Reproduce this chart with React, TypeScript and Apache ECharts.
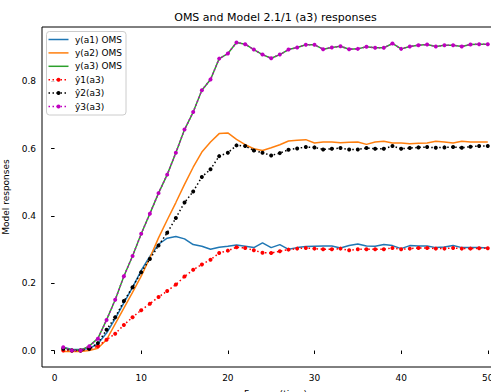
import React, { useEffect, useRef } from "react";
import * as echarts from "echarts";

const frames = [1,2,3,4,5,6,7,8,9,10,11,12,13,14,15,16,17,18,19,20,21,22,23,24,25,26,27,28,29,30,31,32,33,34,35,36,37,38,39,40,41,42,43,44,45,46,47,48,49,50];

const yA1 = [0.010,0.003,0.003,0.006,0.020,0.052,0.095,0.142,0.188,0.238,0.280,0.316,0.334,0.339,0.332,0.315,0.310,0.301,0.307,0.310,0.314,0.310,0.306,0.320,0.306,0.315,0.301,0.306,0.309,0.310,0.311,0.311,0.305,0.312,0.317,0.311,0.310,0.315,0.312,0.303,0.312,0.311,0.311,0.306,0.308,0.312,0.306,0.306,0.306,0.305];
const yA2 = [-0.003,-0.003,-0.003,0.000,0.007,0.032,0.079,0.126,0.173,0.221,0.276,0.335,0.388,0.440,0.494,0.545,0.590,0.620,0.645,0.647,0.628,0.612,0.600,0.595,0.603,0.612,0.623,0.625,0.627,0.617,0.620,0.620,0.618,0.619,0.620,0.613,0.620,0.622,0.617,0.617,0.615,0.616,0.617,0.622,0.620,0.617,0.622,0.620,0.620,0.620];
const yA3 = [0.009,0.001,0.001,0.013,0.036,0.091,0.151,0.221,0.281,0.347,0.407,0.468,0.523,0.588,0.657,0.709,0.774,0.806,0.868,0.883,0.916,0.911,0.895,0.880,0.869,0.880,0.895,0.901,0.909,0.909,0.896,0.901,0.905,0.896,0.897,0.903,0.900,0.900,0.913,0.897,0.904,0.908,0.910,0.904,0.908,0.908,0.904,0.910,0.911,0.911];
const yHat1 = [0.000,0.000,0.000,0.005,0.013,0.032,0.050,0.076,0.099,0.120,0.139,0.159,0.177,0.196,0.220,0.240,0.256,0.270,0.290,0.297,0.307,0.305,0.298,0.291,0.290,0.295,0.300,0.303,0.305,0.303,0.301,0.301,0.303,0.298,0.301,0.301,0.301,0.301,0.305,0.301,0.303,0.305,0.305,0.303,0.303,0.305,0.303,0.303,0.304,0.304];
const yHat2 = [0.005,0.000,0.000,0.005,0.022,0.062,0.099,0.147,0.188,0.233,0.272,0.312,0.350,0.394,0.440,0.473,0.516,0.539,0.578,0.588,0.610,0.608,0.595,0.588,0.580,0.587,0.597,0.601,0.605,0.604,0.598,0.600,0.602,0.598,0.598,0.602,0.600,0.600,0.608,0.600,0.602,0.604,0.605,0.603,0.604,0.605,0.603,0.606,0.608,0.608];
const yHat3 = [0.010,0.000,0.000,0.013,0.035,0.091,0.151,0.221,0.281,0.347,0.407,0.468,0.523,0.588,0.657,0.709,0.774,0.806,0.868,0.883,0.916,0.911,0.895,0.880,0.869,0.880,0.895,0.901,0.909,0.909,0.896,0.901,0.905,0.896,0.897,0.903,0.900,0.900,0.913,0.897,0.904,0.908,0.910,0.904,0.908,0.908,0.904,0.910,0.911,0.911];

const seriesNames = ["y(a1) OMS", "y(a2) OMS", "y(a3) OMS", "ŷ1(a3)", "ŷ2(a3)", "ŷ3(a3)"];
const seriesColors = ["#1f77b4", "#ff7f0e", "#2ca02c", "#ff0000", "#000000", "#bf00bf"];
const seriesDotted = [false, false, false, true, true, true];
const xTicks = [0, 10, 20, 30, 40, 50];
const yTicks = [0, 0.2, 0.4, 0.6, 0.8];
const titleText = "OMS and Model 2.1/1 (a3) responses";
const xLabel = "Frames (time)";
const yLabel = "Model responses";

const FONT = "DejaVu Sans";
const CHART_W = 520;
const CHART_H = 392;

function pairs(vals: number[]) {
  return frames.map((f, i) => [f, vals[i]]);
}

function legendGraphics() {
  const els: any[] = [];
  els.push({
    type: "rect",
    z: 100,
    shape: { x: 46.5, y: 31.5, width: 79.5, height: 83.5, r: 3 },
    style: { fill: "rgba(255,255,255,0.8)", stroke: "#cccccc", lineWidth: 1 },
  });
  seriesNames.forEach((name, i) => {
    const cy = 39.5 + i * 13.4;
    const color = seriesColors[i];
    els.push({
      type: "line",
      z: 101,
      shape: { x1: 48.5, y1: cy, x2: 68.5, y2: cy },
      style: seriesDotted[i]
        ? { stroke: color, lineWidth: 1.5, lineDash: [1.5, 2.5] }
        : { stroke: color, lineWidth: 1.5 },
    });
    if (seriesDotted[i]) {
      els.push({
        type: "circle",
        z: 102,
        shape: { cx: 58.5, cy, r: 2 },
        style: { fill: color },
      });
    }
    els.push({
      type: "text",
      z: 102,
      x: 75,
      y: cy,
      style: {
        text: name,
        fontFamily: FONT,
        fontSize: 9,
        fill: "#000",
        textAlign: "left",
        textVerticalAlign: "middle",
      },
    });
  });
  return els;
}

export default function App() {
  const ref = useRef<HTMLDivElement>(null);
  useEffect(() => {
    if (!ref.current) return;
    const chart = echarts.init(ref.current, null, { renderer: "svg" });
    const makeSeries = (i: number, vals: number[]) => {
      const color = seriesColors[i];
      if (!seriesDotted[i]) {
        return {
          name: seriesNames[i],
          type: "line",
          data: pairs(vals),
          showSymbol: false,
          symbol: "none",
          lineStyle: { color, width: 1.5 },
          itemStyle: { color },
        };
      }
      return {
        name: seriesNames[i],
        type: "line",
        data: pairs(vals),
        symbol: "circle",
        symbolSize: 4,
        showSymbol: true,
        lineStyle: { color, width: 1.5, type: [1.5, 2.5] },
        itemStyle: { color, borderWidth: 0 },
      };
    };
    chart.setOption({
      animation: false,
      textStyle: { fontFamily: FONT },
      grid: {
        left: 42,
        top: 27,
        right: CHART_W - 509,
        bottom: 25,
        outerBoundsMode: "none",
        show: true,
        borderColor: "#000",
        borderWidth: 1,
        backgroundColor: "transparent",
      },
      graphic: [
        {
          type: "text",
          x: 275.5,
          y: 17,
          style: {
            text: titleText,
            fontFamily: FONT,
            fontSize: 11,
            fill: "#000",
            textAlign: "center",
            textVerticalAlign: "middle",
          },
        },
        ...legendGraphics(),
      ],
      xAxis: {
        type: "value",
        min: -1.45,
        max: 52.45,
        name: xLabel,
        nameLocation: "middle",
        nameGap: 22,
        nameTextStyle: { fontFamily: FONT, fontSize: 9, color: "#000" },
        axisLine: { show: false },
        splitLine: { show: false },
        axisTick: { show: true, length: 3.5, lineStyle: { color: "#000" }, customValues: xTicks },
        axisLabel: { fontFamily: FONT, fontSize: 9, color: "#000", margin: 6, customValues: xTicks, formatter: (v: number) => String(v) },
      },
      yAxis: {
        type: "value",
        min: -0.049,
        max: 0.962,
        name: yLabel,
        nameLocation: "middle",
        nameGap: 25,
        nameTextStyle: { fontFamily: FONT, fontSize: 9, color: "#000" },
        axisLine: { show: false },
        splitLine: { show: false },
        axisTick: { show: true, length: 3.5, lineStyle: { color: "#000" }, customValues: yTicks },
        axisLabel: { fontFamily: FONT, fontSize: 9, color: "#000", margin: 6, customValues: yTicks, formatter: (v: number) => v.toFixed(1) },
      },
      series: [
        makeSeries(0, yA1),
        makeSeries(1, yA2),
        makeSeries(2, yA3),
        makeSeries(3, yHat1),
        makeSeries(4, yHat2),
        makeSeries(5, yHat3),
      ],
    });
    return () => chart.dispose();
  }, []);
  return (
    <div
      style={{ position: "fixed", left: 0, top: 0, width: 491, height: 392, overflow: "hidden", background: "#fff" }}
    >
      <div ref={ref} style={{ width: CHART_W, height: CHART_H }} />
    </div>
  );
}
